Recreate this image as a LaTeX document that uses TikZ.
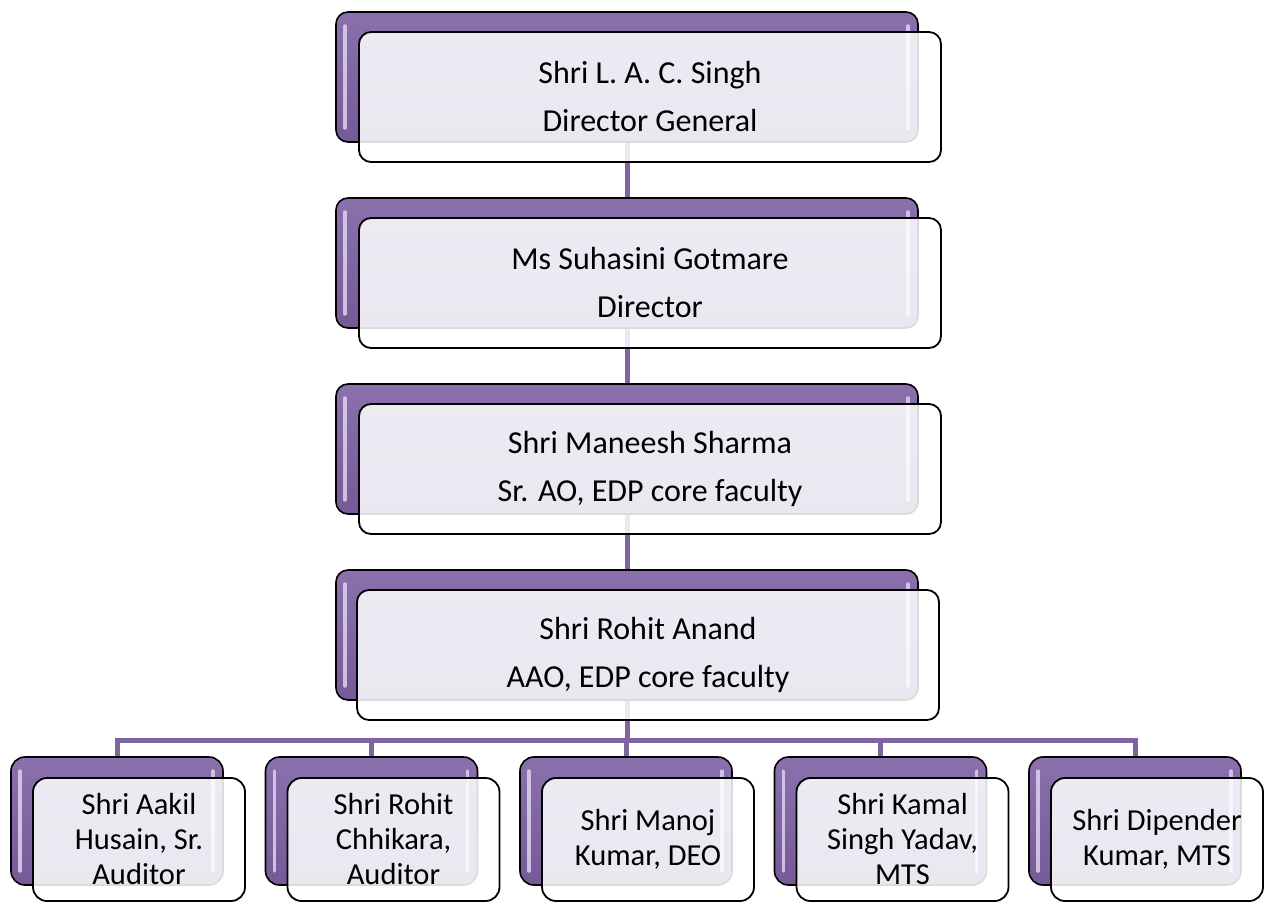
\documentclass[tikz,border=0pt]{standalone}
\usepackage{fontspec}
\setmainfont{Carlito}
\usetikzlibrary{backgrounds}
\definecolor{pur}{RGB}{128,100,162}
\definecolor{purl}{RGB}{138,112,173}
\definecolor{purd}{RGB}{118,90,152}
\definecolor{hl}{RGB}{222,210,240}
\tikzset{
  backbox/.style={draw=black, line width=1.6pt, rounded corners=12pt, top color=purl, bottom color=purd, inner sep=0pt, outer sep=0pt},
  frontbox/.style={draw=black, line width=1.8pt, rounded corners=12pt, fill=white, fill opacity=0.86, text opacity=1, draw opacity=1, inner sep=0pt, outer sep=0pt, align=center},
  mainback/.style={backbox, minimum width=582pt, minimum height=130pt},
  mainfront/.style={frontbox, minimum width=582pt, minimum height=130pt, font=\fontsize{32}{48}\selectfont},
  smallback/.style={backbox, rounded corners=14pt, minimum width=212pt, minimum height=128pt},
  smallfront/.style={frontbox, rounded corners=14pt, minimum width=212pt, minimum height=123pt, font=\fontsize{30.5}{35}\selectfont},
  conn/.style={draw=pur, line width=5pt, line join=miter},
  hilite/.style={draw=hl, line width=3.5pt, line cap=round, opacity=0.85},
}
\newcommand{\glossy}[1]{%
  \draw[hilite] ([xshift=9pt,yshift=-14pt]#1.north west) -- ([xshift=9pt,yshift=14pt]#1.south west);
  \draw[hilite] ([xshift=-10pt,yshift=-14pt]#1.north east) -- ([xshift=-10pt,yshift=14pt]#1.south east);}
\begin{document}
\begin{tikzpicture}[x=1pt,y=-1pt]
\useasboundingbox (0,0) rectangle (1269,903);
% main boxes
\node[mainback] (b1) at (627,77) {};
\glossy{b1}
\node[mainfront] (f1) at (650,97) {Shri L. A. C. Singh\\Director General};
\node[mainback] (b2) at (627,263) {};
\glossy{b2}
\node[mainfront] (f2) at (650,283) {Ms Suhasini Gotmare\\Director};
\node[mainback] (b3) at (627,449) {};
\glossy{b3}
\node[mainfront] (f3) at (650,469) {Shri Maneesh Sharma\\Sr. AO, EDP core faculty};
\node[mainback] (b4) at (627,635) {};
\glossy{b4}
\node[mainfront] (f4) at (648,655) {Shri Rohit Anand\\AAO, EDP core faculty};
% bottom boxes
\node[smallback] (c1) at (117,821) {};
\glossy{c1}
\node[smallfront] (d1) at (139,839.5) {Shri Aakil\\Husain, Sr.\\Auditor};
\node[smallback] (c2) at (371.5,821) {};
\glossy{c2}
\node[smallfront] (d2) at (393.5,839.5) {Shri Rohit\\Chhikara,\\Auditor};
\node[smallback] (c3) at (626,821) {};
\glossy{c3}
\node[smallfront] (d3) at (648,839.5) {Shri Manoj\\Kumar, DEO};
\node[smallback] (c4) at (880.5,821) {};
\glossy{c4}
\node[smallfront] (d4) at (902.5,839.5) {Shri Kamal\\Singh Yadav,\\MTS};
\node[smallback] (c5) at (1135,821) {};
\glossy{c5}
\node[smallfront] (d5) at (1157,839.5) {Shri Dipender\\Kumar, MTS};
\coordinate (bar) at (0,740);
\begin{pgfonlayer}{background}
  \fill[white] (0,0) rectangle (1269,903);
  \draw[conn] (b1.center) -- (b2.center) -- (b3.center) -- (b4.center) -- (b4.center |- bar);
  \draw[conn] (c1.center) -- (c1.center |- bar) -- (c5.center |- bar) -- (c5.center);
  \draw[conn] (c2.center |- bar) -- (c2.center);
  \draw[conn] (c3.center |- bar) -- (c3.center);
  \draw[conn] (c4.center |- bar) -- (c4.center);
\end{pgfonlayer}
\end{tikzpicture}
\end{document}
